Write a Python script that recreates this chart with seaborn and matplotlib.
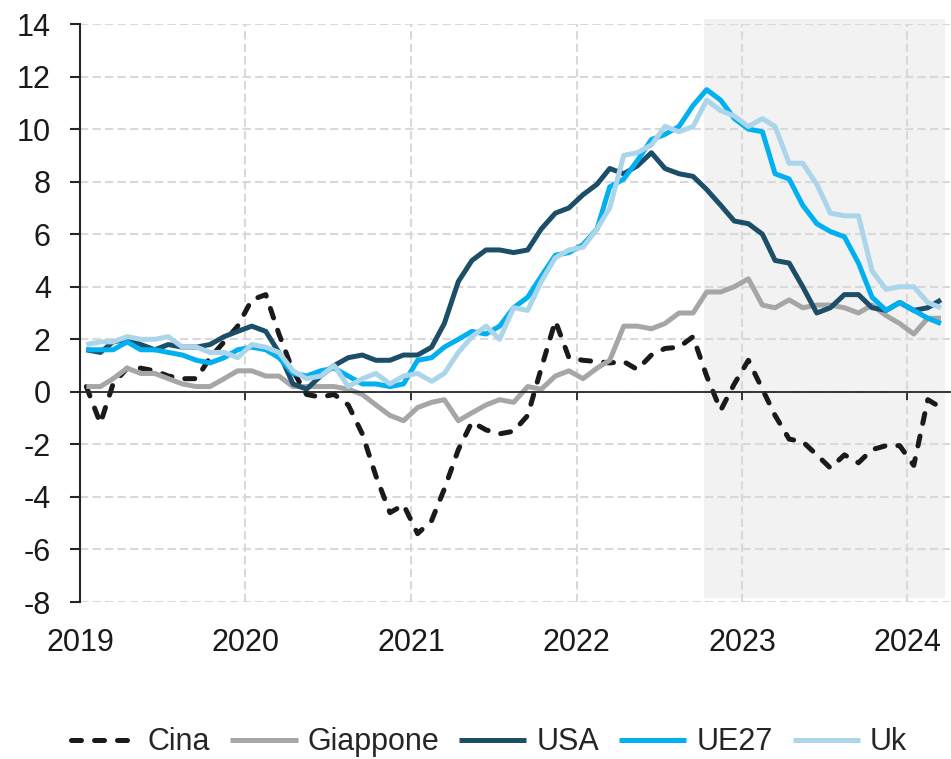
import numpy as np
import pandas as pd
import matplotlib
matplotlib.use('Agg')
import matplotlib.pyplot as plt
import matplotlib.dates as mdates
import seaborn as sns

sns.set_theme(style='white')
plt.rcParams['font.family'] = ['Liberation Sans', 'DejaVu Sans']
plt.rcParams['axes.unicode_minus'] = False

# monthly data, Jan 2019 - Mar 2024 (points plotted mid-month)
mesi = pd.date_range('2019-01-01', '2024-03-01', freq='MS') + pd.Timedelta(days=14)

cina = [0.2, -1.2, 0.3, 0.9, 0.9, 0.8, 0.6, 0.5, 0.5, 1.3, 1.9, 2.5,
        3.5, 3.7, 2.2, 0.8, -0.1, -0.2, -0.1, -0.5, -1.6, -3.2, -4.6, -4.3,
        -5.4, -4.9, -3.7, -2.2, -1.15, -1.45, -1.6, -1.5, -0.9, 0.9, 2.7, 1.3,
        1.2, 1.15, 1.1, 1.15, 0.85, 1.4, 1.65, 1.7, 2.1, 0.6, -0.7, 0.3,
        1.2, 0.1, -0.9, -1.8, -1.9, -2.4, -2.9, -2.4, -2.7, -2.2, -2.05, -2.05,
        -2.8, -0.3, -0.6]
giappone = [0.2, 0.2, 0.5, 0.9, 0.7, 0.7, 0.5, 0.3, 0.2, 0.2, 0.5, 0.8,
            0.8, 0.6, 0.6, 0.2, 0.2, 0.2, 0.2, 0.1, -0.1, -0.5, -0.9, -1.1,
            -0.6, -0.4, -0.3, -1.1, -0.8, -0.5, -0.3, -0.4, 0.2, 0.1, 0.6, 0.8,
            0.5, 0.9, 1.2, 2.5, 2.5, 2.4, 2.6, 3.0, 3.0, 3.8, 3.8, 4.0,
            4.3, 3.3, 3.2, 3.5, 3.2, 3.3, 3.3, 3.2, 3.0, 3.3, 2.9, 2.6,
            2.2, 2.8, 2.8]
usa = [1.6, 1.5, 1.9, 2.0, 1.8, 1.6, 1.8, 1.7, 1.7, 1.8, 2.1, 2.3,
       2.5, 2.3, 1.5, 0.3, 0.1, 0.6, 1.0, 1.3, 1.4, 1.2, 1.2, 1.4,
       1.4, 1.7, 2.6, 4.2, 5.0, 5.4, 5.4, 5.3, 5.4, 6.2, 6.8, 7.0,
       7.5, 7.9, 8.5, 8.3, 8.6, 9.1, 8.5, 8.3, 8.2, 7.7, 7.1, 6.5,
       6.4, 6.0, 5.0, 4.9, 4.0, 3.0, 3.2, 3.7, 3.7, 3.2, 3.1, 3.4,
       3.1, 3.2, 3.5]
ue27 = [1.6, 1.6, 1.6, 1.9, 1.6, 1.6, 1.5, 1.4, 1.2, 1.1, 1.3, 1.6,
        1.7, 1.6, 1.3, 0.7, 0.6, 0.8, 0.9, 0.6, 0.3, 0.3, 0.2, 0.3,
        1.2, 1.3, 1.7, 2.0, 2.3, 2.2, 2.5, 3.2, 3.6, 4.4, 5.2, 5.3,
        5.6, 6.2, 7.8, 8.1, 8.8, 9.6, 9.8, 10.1, 10.9, 11.5, 11.1, 10.4,
        10.0, 9.9, 8.3, 8.1, 7.1, 6.4, 6.1, 5.9, 4.9, 3.6, 3.1, 3.4,
        3.1, 2.8, 2.6]
uk = [1.8, 1.9, 1.9, 2.1, 2.0, 2.0, 2.1, 1.7, 1.7, 1.5, 1.5, 1.3,
      1.8, 1.7, 1.5, 0.8, 0.5, 0.6, 1.0, 0.2, 0.5, 0.7, 0.3, 0.6,
      0.7, 0.4, 0.7, 1.5, 2.1, 2.5, 2.0, 3.2, 3.1, 4.2, 5.1, 5.4,
      5.5, 6.2, 7.0, 9.0, 9.1, 9.4, 10.1, 9.9, 10.1, 11.1, 10.7, 10.5,
      10.1, 10.4, 10.1, 8.7, 8.7, 7.9, 6.8, 6.7, 6.7, 4.6, 3.9, 4.0,
      4.0, 3.4, 3.2]

df = pd.DataFrame({'Mese': mesi, 'Cina': cina, 'Giappone': giappone,
                   'USA': usa, 'UE27': ue27, 'Uk': uk})

colori = {'Cina': '#1a1a1a', 'Giappone': '#a6a6a6', 'USA': '#1d4e68',
          'UE27': '#00b0f0', 'Uk': '#abd5ea'}

fig = plt.figure(figsize=(9.51, 7.59), dpi=100)
ax = fig.add_axes([80/951, 1 - 602/759, 870/951, 578/759])

# forecast shading
ax.axvspan(pd.Timestamp('2022-10-10'), pd.Timestamp('2024-03-24'),
           ymin=0.007, ymax=1.009, color='#f2f2f2', lw=0, zorder=0, clip_on=False)

for nome in ['Cina', 'Giappone', 'USA', 'UE27', 'Uk']:
    if nome == 'Cina':
        sns.lineplot(data=df, x='Mese', y=nome, ax=ax, color=colori[nome], lw=3.6,
                     label=nome, linestyle=(0, (2.0, 2.6)), dash_capstyle='round')
    else:
        sns.lineplot(data=df, x='Mese', y=nome, ax=ax, color=colori[nome], lw=3.6,
                     label=nome, solid_capstyle='butt')

ax.set_xlabel('')
ax.set_ylabel('')
ax.set_ylim(-8, 14)
ax.set_yticks(range(-8, 15, 2))
ax.set_xlim(pd.Timestamp('2019-01-01'), pd.Timestamp('2024-04-04'))
ax.xaxis.set_major_locator(mdates.YearLocator())

ax.set_axisbelow(True)
ax.grid(axis='both', color='#d9d9d9', ls=(0, (4, 2)), lw=1.5)

for s in ['top', 'right']:
    ax.spines[s].set_visible(False)
ax.spines['left'].set_color('#262626')
ax.spines['left'].set_linewidth(1.5)
ax.spines['bottom'].set_position(('data', 0))
ax.spines['bottom'].set_color('#262626')
ax.spines['bottom'].set_linewidth(1.3)

ax.tick_params(axis='y', left=True, length=7, width=1.5, color='#262626',
               labelsize=22, labelcolor='#1a1a1a', pad=14)
ax.tick_params(axis='x', bottom=True, length=6, width=1.3, color='#262626',
               labelbottom=False)

# year labels below the plot area
sec = ax.secondary_xaxis('bottom')
sec.xaxis.set_major_locator(mdates.YearLocator())
sec.xaxis.set_major_formatter(mdates.DateFormatter('%Y'))
sec.tick_params(length=0, labelsize=22, labelcolor='#1a1a1a', pad=19)
for s in sec.spines.values():
    s.set_visible(False)

handles, labels = ax.get_legend_handles_labels()
ax.legend(handles, labels, loc='lower center', bbox_to_anchor=(0.514, 0.002),
          bbox_transform=fig.transFigure, ncol=5, frameon=False, fontsize=22,
          handlelength=2.2, handletextpad=0.33, columnspacing=0.65,
          borderpad=0, borderaxespad=0)

fig.savefig('out.png', dpi=100)
